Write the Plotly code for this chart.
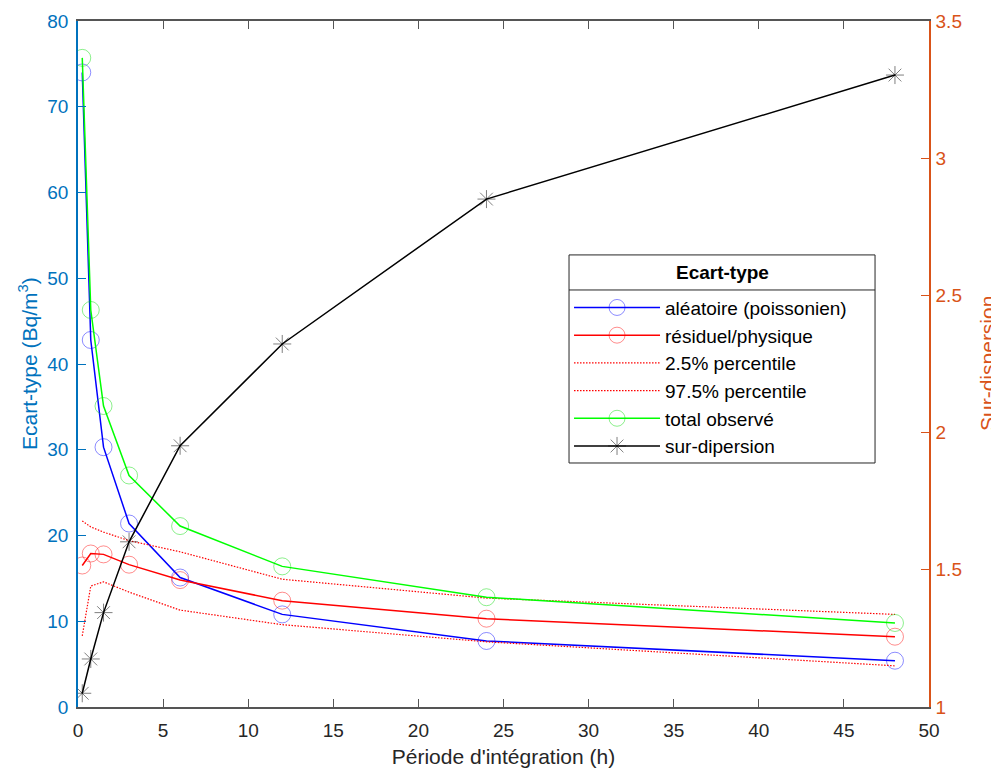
import plotly.graph_objects as go

# Data
periode_h = [0.25, 0.75, 1.5, 3, 6, 12, 24, 48]
aleatoire = [74.0, 42.8, 30.3, 21.4, 15.1, 10.8, 7.7, 5.4]
residuel = [16.5, 17.9, 17.8, 16.6, 14.8, 12.4, 10.3, 8.2]
pct_025 = [8.3, 14.1, 14.6, 13.4, 11.3, 9.6, 7.6, 4.8]
pct_975 = [21.7, 21.0, 20.4, 19.4, 18.1, 14.9, 12.7, 10.8]
total_observe = [75.7, 46.3, 35.1, 27.0, 21.1, 16.4, 12.8, 9.8]
sur_dispersion = [1.05, 1.175, 1.344, 1.602, 1.952, 2.323, 2.851, 3.303]

x_ticks = [0, 5, 10, 15, 20, 25, 30, 35, 40, 45, 50]
y1_ticks = [0, 10, 20, 30, 40, 50, 60, 70, 80]
y2_ticks = [1, 1.5, 2, 2.5, 3, 3.5]

FONT = "Liberation Sans, Arial, sans-serif"
BLUE_AX = "#0072BD"
ORANGE_AX = "#D95319"
GRAY = "#555555"
TXT = "#262626"

fig = go.Figure()

fig.add_trace(go.Scatter(
    x=periode_h, y=aleatoire, name="aléatoire (poissonien)", mode="lines+markers",
    line=dict(color="rgb(0,0,255)", width=1.5),
    marker=dict(symbol="circle-open", size=17, color="rgba(0,0,255,0.45)", line=dict(width=1))))
fig.add_trace(go.Scatter(
    x=periode_h, y=residuel, name="résiduel/physique", mode="lines+markers",
    line=dict(color="rgb(255,0,0)", width=1.5),
    marker=dict(symbol="circle-open", size=17, color="rgba(255,0,0,0.45)", line=dict(width=1))))
fig.add_trace(go.Scatter(
    x=periode_h, y=pct_025, name="2.5% percentile", mode="lines",
    line=dict(color="rgb(255,0,0)", width=1.2, dash="1.5px,1.5px")))
fig.add_trace(go.Scatter(
    x=periode_h, y=pct_975, name="97.5% percentile", mode="lines",
    line=dict(color="rgb(255,0,0)", width=1.2, dash="1.5px,1.5px")))
fig.add_trace(go.Scatter(
    x=periode_h, y=total_observe, name="total observé", mode="lines+markers",
    line=dict(color="rgb(0,255,0)", width=1.5),
    marker=dict(symbol="circle-open", size=17, color="rgba(0,220,0,0.45)", line=dict(width=1))))
fig.add_trace(go.Scatter(
    x=periode_h, y=sur_dispersion, name="sur-dipersion", mode="lines+markers", yaxis="y2",
    line=dict(color="black", width=1.5),
    marker=dict(symbol="asterisk-open", size=15, color="rgba(0,0,0,0.5)", line=dict(width=1))))

# legend box geometry (paper coordinates)
box_x0, box_x1 = 0.577, 0.9366
box_y0, box_y1 = 0.3557, 0.659
sep_y = 0.6079

fig.update_layout(
    width=991, height=761,
    margin=dict(l=70, r=70, t=13, b=62, autoexpand=False),
    paper_bgcolor="white", plot_bgcolor="white",
    font=dict(family=FONT, size=19, color=TXT),
    showlegend=True,
    xaxis=dict(
        range=[0, 50], tickvals=x_ticks, ticks="inside", ticklen=8, tickcolor=GRAY,
        showline=True, linecolor=GRAY, linewidth=1.5, mirror="ticks", showgrid=False, zeroline=False,
        tickfont=dict(size=19, color=TXT), ticklabelstandoff=5, automargin=False,
        title=dict(text="Période d'intégration (h)", font=dict(size=21, color=TXT), standoff=10),
    ),
    yaxis=dict(
        range=[0, 80], tickvals=y1_ticks, ticks="inside", ticklen=8, tickcolor=BLUE_AX,
        showline=True, linecolor=BLUE_AX, linewidth=1.5, showgrid=False, zeroline=False,
        tickfont=dict(size=19, color=BLUE_AX), ticklabelstandoff=4, automargin=False,
    ),
    yaxis2=dict(
        range=[1, 3.5], tickvals=y2_ticks, ticks="inside", ticklen=8, tickcolor=ORANGE_AX,
        overlaying="y", side="right", anchor="x",
        showline=True, linecolor=ORANGE_AX, linewidth=1.5, showgrid=False, zeroline=False,
        tickfont=dict(size=19, color=ORANGE_AX), ticklabelstandoff=1, automargin=False,
    ),
    legend=dict(
        x=box_x0, y=sep_y + 0.002, xanchor="left", yanchor="top",
        bgcolor="rgba(0,0,0,0)", borderwidth=0,
        font=dict(family=FONT, size=19, color="black"),
        itemwidth=86,
    ),
    annotations=[
        dict(text="Ecart-type (Bq/m<sup>3</sup>)", textangle=-90, xref="paper", yref="paper",
             x=0, y=0.5, xanchor="center", yanchor="middle", xshift=-50, showarrow=False,
             font=dict(size=21, color=BLUE_AX)),
        dict(text="Sur-dispersion", textangle=-90, xref="paper", yref="paper",
             x=1, y=0.5, xanchor="center", yanchor="middle", xshift=58, showarrow=False,
             font=dict(size=21, color=ORANGE_AX)),
        dict(text="<b>Ecart-type</b>", xref="paper", yref="paper",
             x=(box_x0 + box_x1) / 2, y=(box_y1 + sep_y) / 2, xanchor="center", yanchor="middle",
             showarrow=False, font=dict(size=19, color="black")),
    ],
    shapes=[
        dict(type="rect", xref="paper", yref="paper", x0=box_x0, x1=box_x1, y0=box_y0, y1=box_y1,
             line=dict(color=TXT, width=1), fillcolor="white", layer="above"),
        dict(type="line", xref="paper", yref="paper", x0=box_x0, x1=box_x1, y0=sep_y, y1=sep_y,
             line=dict(color=TXT, width=1), layer="above"),
    ],
)

fig.write_html("out.html")
